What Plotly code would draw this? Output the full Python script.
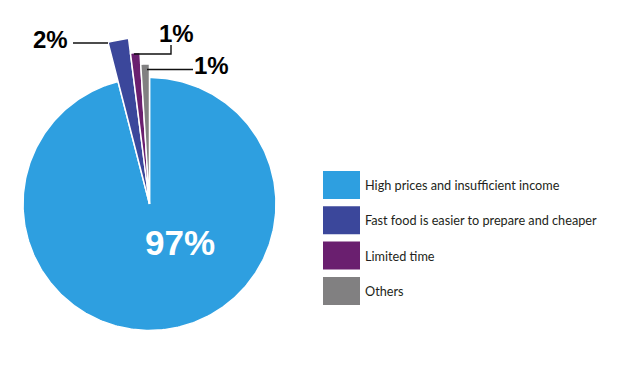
import numpy as np
import plotly.graph_objects as go

# ---- data ----
categories = ["High prices and insufficient income",
              "Fast food is easier to prepare and cheaper",
              "Limited time",
              "Others"]
values = [96, 2, 1, 1]
value_labels = ["97%", "2%", "1%", "1%"]

# ---- style ----
colors = ["#2e9fe0", "#3b479b", "#6a1f6f", "#818081"]
radius_px = [126.5, 167, 152, 140]   # drawn radius of each slice (pixels)

W, H = 629, 377
CX, CY = 149.5, 204.0

fig = go.Figure()

# wedges computed from the values (angles clockwise from 12 o'clock)
total = sum(values)
acc = 0.0
for cat, v, col, r in zip(categories, values, colors, radius_px):
    a0 = acc / total * 2 * np.pi
    a1 = (acc + v) / total * 2 * np.pi
    acc += v
    t = np.linspace(a0, a1, max(3, int(v * 4)))
    xs = np.concatenate([[CX], CX + r * np.sin(t), [CX]])
    ys = np.concatenate([[CY], CY - r * np.cos(t), [CY]])
    fig.add_trace(go.Scatter(x=xs, y=ys, mode="lines", fill="toself",
                             fillcolor=col, line=dict(color="white", width=1.5),
                             name=cat, hoverinfo="name", showlegend=False))

# main label in the big slice
fig.add_annotation(x=180, y=242, text="<b>" + value_labels[0] + "</b>", showarrow=False,
                   font=dict(family="Liberation Sans, Arial", size=35, color="white"))

# outside percentage labels with leader lines
outer = [(1, 50, 39), (2, 176, 33), (3, 211, 65)]
for i, x, y in outer:
    fig.add_annotation(x=x, y=y, text="<b>" + value_labels[i] + "</b>", showarrow=False,
                       font=dict(family="Liberation Sans, Arial", size=24, color="black"))
leaders = [
    [(73, 43), (108, 43)],
    [(134, 54), (171, 54), (171, 45)],
    [(147, 69.5), (193, 69.5)],
]
for pts in leaders:
    path = "M " + " L ".join(f"{a},{b}" for a, b in pts)
    fig.add_shape(type="path", path=path, xref="x", yref="y",
                  line=dict(color="#111111", width=1.4))

# custom legend with large swatches
LX0, LX1, LY0, STEP, SH = 323, 360, 171, 35.3, 28
for k, (cat, col) in enumerate(zip(categories, colors)):
    top = LY0 + k * STEP
    fig.add_shape(type="rect", xref="x", yref="y",
                  x0=LX0, x1=LX1, y0=top, y1=top + SH,
                  fillcolor=col, line=dict(width=0))
    fig.add_annotation(x=LX1 + 3, y=top + SH / 2, text=cat, showarrow=False,
                       xanchor="left", yanchor="middle",
                       font=dict(family="Lato, Noto Sans", size=12.7, color="#231f20"))

fig.update_layout(
    width=W, height=H,
    margin=dict(l=0, r=0, t=0, b=0),
    paper_bgcolor="white", plot_bgcolor="white",
    xaxis=dict(range=[0, W], visible=False, fixedrange=True),
    yaxis=dict(range=[H, 0], visible=False, fixedrange=True),
    showlegend=False,
)

fig.write_html("out.html", config={"displayModeBar": False},
               post_script="document.body.style.margin='0';document.body.style.overflow='hidden';")
